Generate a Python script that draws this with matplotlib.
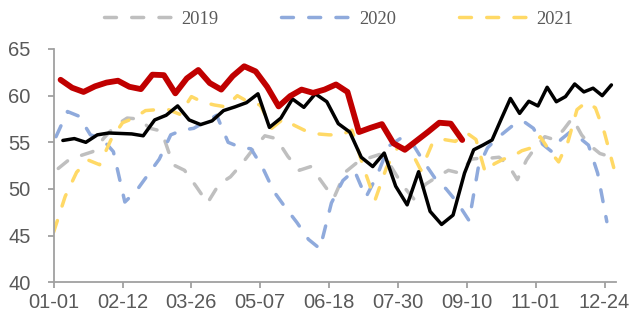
import matplotlib
matplotlib.use("Agg")
import matplotlib.pyplot as plt
import pandas as pd

# Weekly readings (Friday releases) for each year
first_friday = {
    "2019": "2019-01-04",
    "2020": "2020-01-03",
    "2021": "2021-01-01",
    "2022": "2022-01-07",
    "2023": "2023-01-06",
}

v2019 = [52.2, 53.2, 53.6, 54.0, 55.5, 56.8, 57.6, 57.5, 56.5, 56.2,
         52.6, 52.0, 50.3, 48.5, 50.5, 51.3, 52.7, 54.3, 55.7, 55.4,
         53.5, 52.0, 52.4, 50.7, 49.0, 51.8, 52.8, 53.3, 53.7, 52.4,
         50.4, 48.9, 50.5, 51.3, 52.0, 51.7, 53.2, 53.3, 53.3, 53.4,
         52.6, 51.0, 53.1, 54.5, 55.6, 55.3, 56.3, 57.6, 55.8, 54.6,
         53.8, 53.5]

v2020 = [55.6, 58.3, 57.8, 55.8, 55.4, 54.0, 48.6, 49.8, 51.5, 53.2,
         55.8, 56.3, 56.5, 57.2, 57.9, 55.0, 54.5, 54.3, 52.3, 49.7,
         48.0, 46.4, 44.6, 43.6, 48.5, 50.9, 52.0, 49.1, 51.5, 54.6,
         55.4, 55.0, 53.0, 51.2, 50.0, 48.5, 46.6, 52.3, 54.4, 55.4,
         56.2, 57.0, 57.2, 56.5, 54.8, 54.0, 55.3, 56.1, 55.5, 54.7,
         51.7, 46.5]

v2021 = [45.4, 49.2, 51.8, 53.1, 52.6, 55.3, 57.1, 57.6, 58.4, 58.5,
         58.5, 58.0, 59.9, 59.3, 59.0, 58.8, 60.0, 59.3, 59.0, 56.5,
         57.5, 56.8, 56.2, 55.9, 55.8, 55.8, 56.3, 52.3, 48.8, 52.3,
         54.5, 54.4, 52.0, 54.9, 55.3, 55.1, 56.0, 55.3, 51.8, 52.7,
         53.2, 53.5, 54.1, 54.4, 55.6, 54.1, 52.9, 55.0, 58.5, 59.3,
         58.7, 56.0, 52.3]

v2022 = [55.2, 55.4, 55.0, 55.8, 56.0, 55.95, 55.9, 55.7, 57.4, 57.9,
         58.9, 57.4, 56.9, 57.3, 58.4, 58.8, 59.25, 60.2, 56.6, 57.6,
         59.65, 58.75, 60.2, 59.35, 57.0, 56.1, 53.4, 52.4, 53.85, 50.3,
         48.3, 51.85, 47.6, 46.2, 47.2, 51.7, 54.2, 54.7, 55.25, 57.5,
         59.7, 58.1, 59.4, 58.9, 60.9, 59.35, 59.9, 61.25, 60.4, 60.8,
         60.0, 61.15]

v2023 = [61.7, 60.85, 60.4, 61.0, 61.4, 61.6, 60.95, 60.7, 62.25, 62.2,
         60.25, 61.85, 62.75, 61.35, 60.65, 62.1, 63.15, 62.6, 60.95, 58.85,
         59.95, 60.65, 60.3, 60.65, 61.2, 60.4, 56.1, 56.55, 56.95, 54.9,
         54.2, 55.15, 56.1, 57.1, 57.0, 55.25]

values = {"2019": v2019, "2020": v2020, "2021": v2021, "2022": v2022, "2023": v2023}

# Each year's release dates as month-day strings; the shared category axis
# is the sorted union of all of them.
labels_by_year = {
    yr: pd.date_range(first_friday[yr], periods=len(vals), freq="7D").strftime("%m-%d")
    for yr, vals in values.items()
}
categories = sorted(set().union(*[set(l) for l in labels_by_year.values()]))
cat_index = {c: i for i, c in enumerate(categories)}

styles = {
    "2019": dict(color="#BFBFBF", lw=2.5, dashed=True),
    "2020": dict(color="#8FAADC", lw=2.5, dashed=True),
    "2021": dict(color="#FFD966", lw=2.5, dashed=True),
    "2022": dict(color="#000000", lw=2.5, dashed=False),
    "2023": dict(color="#C00000", lw=4.2, dashed=False),
}
draw_order = ["2019", "2020", "2021", "2022", "2023"]

plt.rcParams["lines.scale_dashes"] = False

fig = plt.figure(figsize=(6.3, 3.2), dpi=100)
ax = fig.add_axes([53.7 / 630, 1 - 282.3 / 320, (616 - 53.7) / 630, (282.3 - 49) / 320])

legend_handles = []
for yr in draw_order:
    st = styles[yr]
    xs = [cat_index[c] for c in labels_by_year[yr]]
    kw = dict(color=st["color"], lw=st["lw"], solid_joinstyle="round",
              solid_capstyle="round", dash_capstyle="round", dash_joinstyle="round")
    if st["dashed"]:
        line, = ax.plot(xs, values[yr], linestyle=(0, (8.6, 11.0)), label=yr, **kw)
        legend_handles.append(line)
    else:
        ax.plot(xs, values[yr], **kw)

ax.set_xlim(0, len(categories))
ax.set_ylim(40, 65)
ax.set_yticks(range(40, 66, 5))
tick_pos = list(range(0, len(categories), 30))
ax.set_xticks(tick_pos)
ax.set_xticklabels([categories[i] for i in tick_pos])

axis_gray = "#A0A0A0"
for side in ("top", "right"):
    ax.spines[side].set_visible(False)
for side in ("left", "bottom"):
    ax.spines[side].set_color(axis_gray)
    ax.spines[side].set_linewidth(1.3)
ax.tick_params(axis="both", direction="out", length=4, width=1.3, color=axis_gray,
               labelcolor="#595959", labelsize=14.5)
ax.tick_params(axis="x", pad=4)
ax.tick_params(axis="y", pad=12.5)
for lab in ax.get_xticklabels() + ax.get_yticklabels():
    lab.set_fontfamily("Liberation Sans")

fig.legend(handles=legend_handles, loc="center", bbox_to_anchor=(338.5 / 630, 1 - 19 / 320),
           ncol=3, frameon=False, handlelength=3.9, handletextpad=0.3, columnspacing=3.4,
           prop={"family": "Liberation Serif", "size": 13.3}, labelcolor="#595959")

fig.savefig("out.png", dpi=100)
